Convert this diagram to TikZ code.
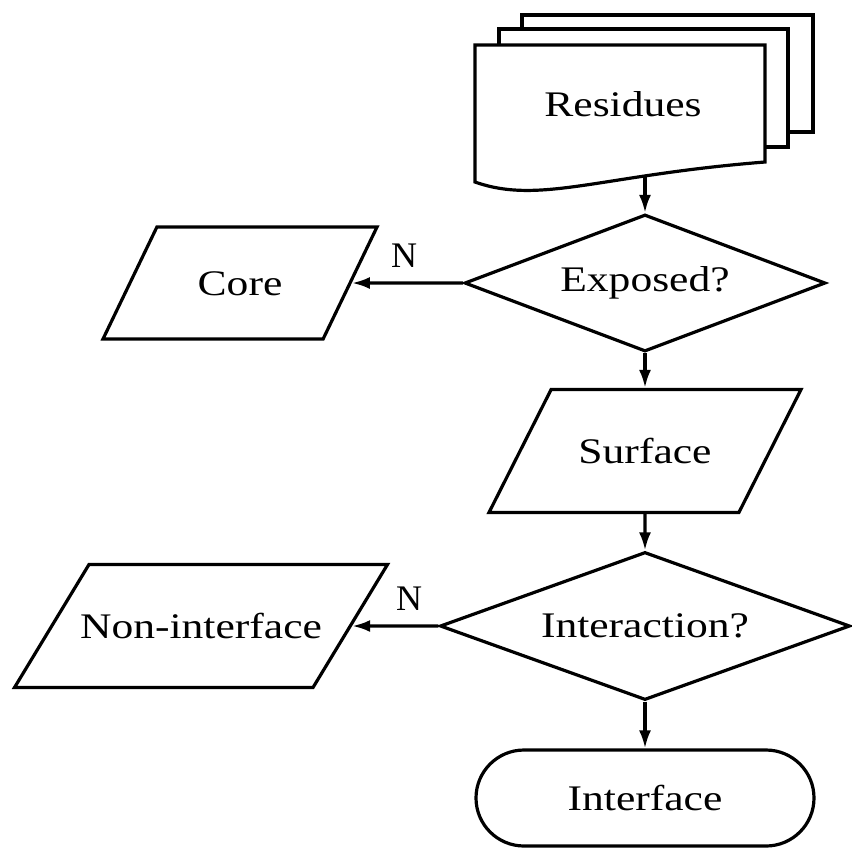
\documentclass[tikz,border=0pt]{standalone}
\usepackage{fontspec}
\setmainfont[FakeStretch=1.21]{Liberation Serif}
\newfontfamily\plainserif{Liberation Serif}
\usetikzlibrary{shapes.geometric,arrows.meta}

\begin{document}
\begin{tikzpicture}[x=0.5pt,y=-0.5pt,line width=1.6pt,
  font=\fontsize{18}{22}\selectfont,
  decision/.style={draw,diamond,inner sep=0pt},
  io/.style={draw,trapezium,trapezium stretches body,inner xsep=0pt,
    text height=12pt,text depth=0pt},
  term/.style={draw,rectangle,rounded corners=24pt,inner sep=0pt},
  arr/.style={-{Latex[length=9pt,width=6pt]}},
  lab/.style={font=\plainserif\fontsize{18}{22}\selectfont,inner sep=0pt}]
  \useasboundingbox (0,0) rectangle (852,848);

  %stacked pages
  \draw[fill=white] (522,15) rectangle (813,132);
  \draw[fill=white] (499,29) rectangle (788,147);
  \draw[fill=white] (475,182) -- (475,45) -- (765,45) -- (765,162)
    .. controls (600,175) and (540,205) .. (475,182) -- cycle;
  \node (res) at (623,104) {Residues};
  \coordinate (resb) at (645,177);

  %decisions
  \node[decision,aspect=2.6,minimum width=180.5pt,minimum height=68.5pt] (exposed) at (645,283) {Exposed?};
  \node[decision,aspect=2.8,minimum width=205pt,minimum height=74pt] (inter) at (645,626) {Interaction?};

  %data
  \node[io,trapezium left angle=64.3,trapezium right angle=115.7,inner ysep=22pt,minimum width=137pt] (core) at (240,283) {Core};
  \node[io,trapezium left angle=63.2,trapezium right angle=116.8,inner ysep=24.75pt,minimum width=156pt] (surface) at (645,451) {Surface};
  \node[io,trapezium left angle=58.8,trapezium right angle=121.2,inner ysep=24.75pt,inner xsep=-4.5pt,minimum width=186.5pt] (nonif) at (201,626) {Non-interface};

  %end
  \node[term,minimum width=169pt,minimum height=48pt] (iface) at (645,798) {Interface};

  \draw[arr] (resb) -- (exposed);
  \draw[arr] (exposed) -- node[lab,above=7pt,pos=0.53] (n1) {N} (core);
  \draw[arr] (exposed) -- (surface);
  \draw[arr] (surface) -- (inter);
  \draw[arr] (inter) -- node[lab,above=7pt,pos=0.34] (n2) {N} (nonif);
  \draw[arr] (inter) -- (iface);
\end{tikzpicture}
\end{document}
